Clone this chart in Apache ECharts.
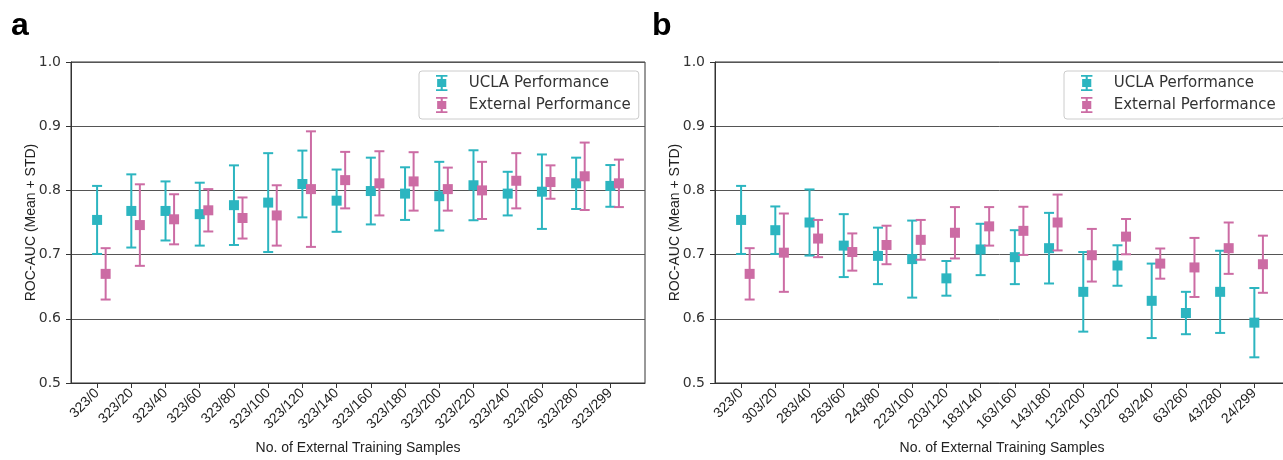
<!DOCTYPE html>
<html><head><meta charset="utf-8">
<script src="https://cdn.jsdelivr.net/npm/echarts@6/dist/echarts.min.js"></script>
<style>html,body{margin:0;padding:0;background:#fff}#c{width:1283px;height:460px}</style>
</head><body><div id="c"></div>
<script>
const categoriesA = ['323/0','323/20','323/40','323/60','323/80','323/100','323/120','323/140','323/160','323/180','323/200','323/220','323/240','323/260','323/280','323/299'];
const categoriesB = ['323/0','303/20','283/40','263/60','243/80','223/100','203/120','183/140','163/160','143/180','123/200','103/220','83/240','63/260','43/280','24/299'];
const yTicks = [0.5, 0.6, 0.7, 0.8, 0.9, 1.0];

const uclaMeanA = [0.754,0.768,0.768,0.763,0.777,0.781,0.810,0.784,0.799,0.795,0.791,0.808,0.795,0.798,0.811,0.807];
const uclaStdA  = [0.053,0.057,0.046,0.049,0.062,0.077,0.052,0.0485,0.052,0.041,0.0535,0.0545,0.034,0.058,0.040,0.0325];
const extMeanA  = [0.670,0.746,0.755,0.769,0.757,0.761,0.802,0.816,0.811,0.814,0.802,0.800,0.815,0.813,0.822,0.811];
const extStdA   = [0.040,0.0635,0.039,0.033,0.032,0.047,0.090,0.044,0.050,0.0455,0.0335,0.0445,0.043,0.026,0.0525,0.037];

const uclaMeanB = [0.754,0.738,0.750,0.714,0.698,0.693,0.663,0.708,0.696,0.710,0.642,0.683,0.628,0.609,0.642,0.594];
const uclaStdB  = [0.053,0.037,0.0515,0.049,0.044,0.060,0.027,0.040,0.042,0.055,0.062,0.0315,0.058,0.033,0.064,0.054];
const extMeanB  = [0.670,0.703,0.725,0.704,0.715,0.723,0.734,0.744,0.737,0.750,0.699,0.728,0.686,0.680,0.710,0.685];
const extStdB   = [0.040,0.061,0.029,0.029,0.030,0.031,0.040,0.030,0.0375,0.0435,0.041,0.0275,0.0235,0.046,0.040,0.0445];

const TEAL = '#2cb5c0', PINK = '#cc6ca4';
const OFFSET = 0.25;
const ICON = 'path://M0,0H10V1.6H5.9V3.5H9V10.5H5.9V12.4H10V14H0V12.4H4.1V10.5H1V3.5H4.1V1.6H0Z';

function errData(means, stds, off) { return means.map((m, i) => [i + off, m, stds[i]]); }
function ptData(means, off) { return means.map((m, i) => [i + off, m]); }

function renderErr(color) {
  return function (params, api) {
    const x = api.value(0), m = api.value(1), s = api.value(2);
    const t = api.coord([x, m + s]), b = api.coord([x, m - s]);
    const hw = 5;
    const st = { stroke: color, lineWidth: 2 };
    return { type: 'group', children: [
      { type: 'line', shape: { x1: t[0], y1: t[1], x2: b[0], y2: b[1] }, style: st },
      { type: 'line', shape: { x1: t[0] - hw, y1: t[1], x2: t[0] + hw, y2: t[1] }, style: st },
      { type: 'line', shape: { x1: b[0] - hw, y1: b[1], x2: b[0] + hw, y2: b[1] }, style: st }
    ]};
  };
}

const ticksIdx = categoriesA.map((_, i) => i);
function xAxis(gi, cats) {
  return {
    type: 'value', gridIndex: gi, min: -0.7625, max: 16.0125,
    name: 'No. of External Training Samples', nameLocation: 'middle', nameGap: 58, nameMoveOverlap: false,
    nameTextStyle: { fontFamily: 'Liberation Sans', fontSize: 14, color: '#222' },
    axisLine: { show: true, onZero: false, lineStyle: { color: '#333', width: 1 } },
    axisTick: { show: true, customValues: ticksIdx, length: 5, lineStyle: { color: '#333' } },
    axisLabel: { customValues: ticksIdx, rotate: 45, margin: 8, fontFamily: 'Liberation Sans', fontSize: 14, color: '#222',
      formatter: v => cats[Math.round(v)] },
    splitLine: { show: false }
  };
}
function yAxis(gi) {
  return {
    type: 'value', gridIndex: gi, min: 0.5, max: 1.0, interval: 0.1,
    name: 'ROC-AUC (Mean + STD)', nameLocation: 'middle', nameGap: 33, nameMoveOverlap: false,
    nameTextStyle: { fontFamily: 'Liberation Sans', fontSize: 14, color: '#222' },
    axisLine: { show: true, onZero: false, lineStyle: { color: '#333', width: 1 } },
    axisTick: { show: true, length: 5, lineStyle: { color: '#333' } },
    axisLabel: { margin: 10, fontFamily: 'DejaVu Sans', fontSize: 14, color: '#333', formatter: v => v.toFixed(1) },
    splitLine: { show: true, lineStyle: { color: '#555', width: 1 } }
  };
}

function panelSeries(gi, um, us, em, es) {
  return [
    { type: 'custom', name: 'UCLA Performance', xAxisIndex: gi, yAxisIndex: gi, renderItem: renderErr(TEAL), data: errData(um, us, 0), itemStyle: { color: TEAL }, z: 2, silent: true },
    { type: 'scatter', name: 'UCLA Performance', xAxisIndex: gi, yAxisIndex: gi, symbol: 'rect', symbolSize: 10, data: ptData(um, 0), itemStyle: { color: TEAL, opacity: 1 }, z: 3 },
    { type: 'custom', name: 'External Performance', xAxisIndex: gi, yAxisIndex: gi, renderItem: renderErr(PINK), data: errData(em, es, OFFSET), itemStyle: { color: PINK }, z: 4, silent: true },
    { type: 'scatter', name: 'External Performance', xAxisIndex: gi, yAxisIndex: gi, symbol: 'rect', symbolSize: 10, data: ptData(em, OFFSET), itemStyle: { color: PINK, opacity: 1 }, z: 5 }
  ];
}

function legend(left) {
  return {
    orient: 'vertical', left: left, top: 71, padding: [4, 8, 6, 17], itemGap: 6,
    itemWidth: 44, itemHeight: 16,
    borderColor: '#cccccc', borderWidth: 1, borderRadius: 3, backgroundColor: '#fff',
    textStyle: { fontFamily: 'DejaVu Sans', fontSize: 15, color: '#333' },
    selectedMode: false,
    data: [
      { name: 'UCLA Performance', icon: ICON, itemStyle: { color: TEAL } },
      { name: 'External Performance', icon: ICON, itemStyle: { color: PINK } }
    ]
  };
}

const chart = echarts.init(document.getElementById('c'), null, { renderer: 'canvas' });
chart.setOption({
  animation: false,
  backgroundColor: '#fff',
  grid: [
    { left: 71, top: 62, width: 574, height: 321, outerBoundsMode: 'none', containLabel: false, show: true, borderColor: '#333', borderWidth: 1, backgroundColor: 'transparent' },
    { left: 715, top: 62, width: 574, height: 321, outerBoundsMode: 'none', containLabel: false, show: true, borderColor: '#333', borderWidth: 1, backgroundColor: 'transparent' }
  ],
  xAxis: [xAxis(0, categoriesA), xAxis(1, categoriesB)],
  yAxis: [yAxis(0), yAxis(1)],
  legend: [legend(419), legend(1064)],
  graphic: [
    { type: 'text', left: 11, top: 10, style: { text: 'a', font: 'bold 32px "Liberation Sans"', fill: '#000' } },
    { type: 'text', left: 652, top: 10, style: { text: 'b', font: 'bold 32px "Liberation Sans"', fill: '#000' } }
  ],
  series: [].concat(
    panelSeries(0, uclaMeanA, uclaStdA, extMeanA, extStdA),
    panelSeries(1, uclaMeanB, uclaStdB, extMeanB, extStdB)
  )
});
</script></body></html>
